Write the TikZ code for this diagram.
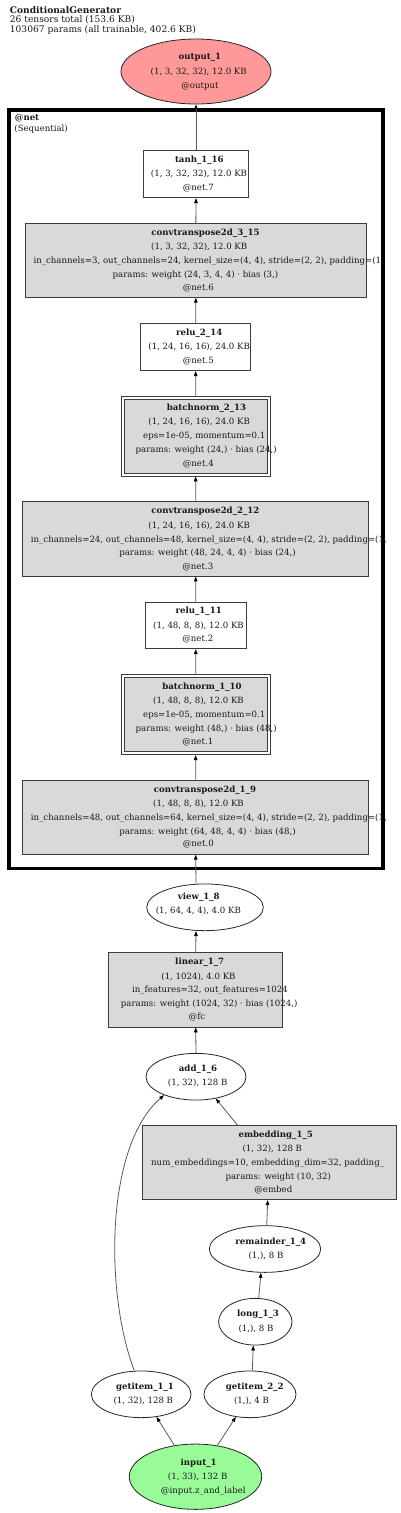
\documentclass[tikz,border=0pt]{standalone}
\usepackage{fontspec}
\setmainfont{DejaVu Serif}
\usetikzlibrary{shapes.geometric,arrows.meta}
\definecolor{outpink}{RGB}{255,153,153}
\definecolor{ingreen}{RGB}{152,251,152}
\definecolor{boxgray}{RGB}{217,217,217}
\definecolor{bordc}{RGB}{60,60,60}
\newcount\lnc
\newcommand\Ln[3]{\global\advance\lnc by 1 \node[txt,anchor=base] (t\the\lnc) at ({#1},{#2+3.2}) {#3};}
\newcommand\Lw[3]{\global\advance\lnc by 1 \node[txt,anchor=base west] (t\the\lnc) at ({#1},{#2+3.2}) {#3};}
\newcommand\Lt[3]{\global\advance\lnc by 1 \node[ttxt,anchor=base west] (t\the\lnc) at ({#1},{#2+3.2}) {#3};}
\newcommand\Lb[3]{\global\advance\lnc by 1 \node[txt,anchor=base] (t\the\lnc) at ({#1},{#2+3.2}) {\bfseries #3};}
\begin{document}
\begin{tikzpicture}[x=1pt,y=-1pt,
  txt/.style={font=\fontsize{8.6}{10}\selectfont,inner sep=0pt,text=black!90},
  ttxt/.style={font=\fontsize{9.1}{10}\selectfont,inner sep=0pt,text=black!90},
  opbox/.style={draw=bordc,line width=0.8pt,rectangle,inner sep=0pt},
  modbox/.style={opbox,fill=boxgray},
  oval/.style={draw=black!85,line width=0.8pt,ellipse,inner sep=0pt},
  edge/.style={draw=black!65,line width=0.8pt,-{Triangle[length=5pt,width=3.6pt,black]}}]
\useasboundingbox (0,0) rectangle (400,1513);
% title
\Lt{9.7}{10}{\bfseries ConditionalGenerator}
\Lt{9.7}{19.5}{26 tensors total (153.6 KB)}
\Lt{9.7}{29.5}{103067 params (all trainable, 402.6 KB)}
% cluster
\node[draw=black,line width=3.5pt,rectangle,inner sep=0pt,minimum width=374pt,minimum height=758.5pt] (net) at (196,489.25) {};
\Lw{14.7}{117.7}{\bfseries @net}
\Lw{14.2}{128}{(Sequential)}
% shapes
\node[oval,fill=outpink,minimum width=150pt,minimum height=65pt] (out) at (196,71.5) {};
\node[opbox,fill=white,minimum width=105.4pt,minimum height=47pt] (tanh) at (196,174.2) {};
\node[modbox,minimum width=340.3pt,minimum height=73.6pt] (conv3) at (195.85,260.5) {};
\node[opbox,fill=white,minimum width=110pt,minimum height=47.4pt] (relu2) at (195.7,347) {};
\node[opbox,fill=white,minimum width=148.7pt,minimum height=79.7pt] (bn2) at (195.65,436.15) {};
\node[modbox,minimum width=143pt,minimum height=74pt] (bn2i) at (195.65,436.15) {};
\node[modbox,minimum width=346pt,minimum height=74.3pt] (conv2) at (195.7,538.85) {};
\node[opbox,fill=white,minimum width=101pt,minimum height=46.7pt] (relu1) at (195.8,625.35) {};
\node[opbox,fill=white,minimum width=148.7pt,minimum height=80.4pt] (bn1) at (195.65,714.5) {};
\node[modbox,minimum width=143pt,minimum height=74.7pt] (bn1i) at (195.65,714.5) {};
\node[modbox,minimum width=346pt,minimum height=74.3pt] (conv1) at (195.7,817.15) {};
\node[oval,fill=white,minimum width=116.6pt,minimum height=46.7pt] (view) at (205,907.3) {};
\node[modbox,minimum width=174pt,minimum height=74.3pt] (lin) at (195.7,989.85) {};
\node[oval,fill=white,minimum width=100pt,minimum height=46.7pt] (add) at (196,1076.7) {};
\node[modbox,minimum width=254pt,minimum height=74pt] (emb) at (269.7,1162.7) {};
\node[oval,fill=white,minimum width=111.4pt,minimum height=46.7pt] (rem) at (265,1249) {};
\node[oval,fill=white,minimum width=73.4pt,minimum height=46.7pt] (long) at (255.3,1321.7) {};
\node[oval,fill=white,minimum width=99.6pt,minimum height=46.7pt] (g11) at (141.2,1394.3) {};
\node[oval,fill=white,minimum width=92pt,minimum height=46.7pt] (g22) at (250,1394.3) {};
\node[oval,fill=ingreen,minimum width=132.4pt,minimum height=65.3pt] (inp) at (195.5,1476.7) {};
% edges
\draw[edge] (tanh.north) -- (out.south);
\draw[edge] (conv3.north) -- (tanh.south);
\draw[edge] (relu2.north) -- (conv3.south);
\draw[edge] (bn2.north) -- (relu2.south);
\draw[edge] (conv2.north) -- (bn2.south);
\draw[edge] (relu1.north) -- (conv2.south);
\draw[edge] (bn1.north) -- (relu1.south);
\draw[edge] (conv1.north) -- (bn1.south);
\draw[edge] ([xshift=-9pt]view.north) -- (conv1.south);
\draw[edge] (lin.north) -- ([xshift=-9pt]view.south);
\draw[edge] (add.north) -- (lin.south);
\draw[edge] ([xshift=-32pt]emb.north) -- (add.-48.5);
\draw[edge] ([xshift=-7pt]g11.north) .. controls (104,1290) and (106,1145) .. (add.-150.2);
\draw[edge] ([xshift=1.7pt]rem.north) -- ([xshift=-2pt]emb.south);
\draw[edge] ([xshift=3.4pt]long.north) -- ([xshift=-4pt]rem.south);
\draw[edge] ([xshift=2.3pt]g22.north) -- ([xshift=-2pt]long.south);
\draw[edge] (inp.124.1) -- (g11.-56.5);
\draw[edge] (inp.55.5) -- (g22.-122.7);
% texts
\Lb{199.8}{56.7}{output\_1}
\Ln{198.7}{71.3}{(1, 3, 32, 32), 12.0 KB}
\Ln{200}{85}{@output}
\Lb{199.3}{159.3}{tanh\_1\_16}
\Ln{199}{173.3}{(1, 3, 32, 32), 12.0 KB}
\Ln{198.3}{187.3}{@net.7}
\Lb{205.5}{232.7}{convtranspose2d\_3\_15}
\Ln{199.2}{246.7}{(1, 3, 32, 32), 12.0 KB}
\Lw{33.3}{260}{in\_channels=3, out\_channels=24, kernel\_size=(4, 4), stride=(2, 2), padding=(1,}
\Ln{195.5}{274}{params: weight (24, 3, 4, 4) · bias (3,)}
\Ln{198.3}{287.3}{@net.6}
\Lb{199.2}{332.7}{relu\_2\_14}
\Ln{199.2}{346.7}{(1, 24, 16, 16), 24.0 KB}
\Ln{198.3}{360.7}{@net.5}
\Lb{206.5}{407.7}{batchnorm\_2\_13}
\Ln{199.2}{421.7}{(1, 24, 16, 16), 24.0 KB}
\Ln{204.3}{435.7}{eps=1e-05, momentum=0.1}
\Ln{206.2}{449.3}{params: weight (24,) · bias (24,)}
\Ln{198.3}{463.3}{@net.4}
\Lb{205.3}{510.7}{convtranspose2d\_2\_12}
\Ln{199.2}{525}{(1, 24, 16, 16), 24.0 KB}
\Lw{30.7}{539}{in\_channels=24, out\_channels=48, kernel\_size=(4, 4), stride=(2, 2), padding=(1,}
\Ln{207.5}{552.7}{params: weight (48, 24, 4, 4) · bias (24,)}
\Ln{197.8}{566}{@net.3}
\Lb{198.7}{610.3}{relu\_1\_11}
\Ln{198.5}{625}{(1, 48, 8, 8), 12.0 KB}
\Ln{197.8}{638.3}{@net.2}
\Lb{202}{686}{batchnorm\_1\_10}
\Ln{198.5}{700.3}{(1, 48, 8, 8), 12.0 KB}
\Ln{204.3}{714.3}{eps=1e-05, momentum=0.1}
\Ln{206.2}{728}{params: weight (48,) · bias (48,)}
\Ln{197.8}{741.7}{@net.1}
\Lb{205}{789}{convtranspose2d\_1\_9}
\Ln{198.5}{803.3}{(1, 48, 8, 8), 12.0 KB}
\Lw{30.7}{817}{in\_channels=48, out\_channels=64, kernel\_size=(4, 4), stride=(2, 2), padding=(1,}
\Ln{207.5}{831}{params: weight (64, 48, 4, 4) · bias (48,)}
\Ln{198.3}{843.7}{@net.0}
\Lb{198.8}{896}{view\_1\_8}
\Ln{198.3}{910}{(1, 64, 4, 4), 4.0 KB}
\Lb{199.7}{961.7}{linear\_1\_7}
\Ln{198.5}{976}{(1, 1024), 4.0 KB}
\Ln{210}{989.3}{in\_features=32, out\_features=1024}
\Ln{209.2}{1003.3}{params: weight (1024, 32) · bias (1024,)}
\Ln{197}{1016.7}{@fc}
\Lb{198}{1068}{add\_1\_6}
\Ln{197.7}{1082.7}{(1, 32), 128 B}
\Lb{275.7}{1134.3}{embedding\_1\_5}
\Ln{272.3}{1148.7}{(1, 32), 128 B}
\Lw{151}{1162.3}{num\_embeddings=10, embedding\_dim=32, padding\_}
\Ln{278.3}{1176}{params: weight (10, 32)}
\Ln{273.3}{1189.7}{@embed}
\Lb{270.8}{1241}{remainder\_1\_4}
\Ln{266}{1255}{(1,), 8 B}
\Lb{258}{1313.3}{long\_1\_3}
\Ln{256}{1328}{(1,), 8 B}
\Lb{145}{1386}{getitem\_1\_1}
\Ln{143.3}{1400.7}{(1, 32), 128 B}
\Lb{254.8}{1386}{getitem\_2\_2}
\Ln{251.5}{1400.7}{(1,), 4 B}
\Lb{198.7}{1462.3}{input\_1}
\Ln{197.7}{1476.7}{(1, 33), 132 B}
\Ln{203.3}{1490}{@input.z\_and\_label}
\end{tikzpicture}
\end{document}
